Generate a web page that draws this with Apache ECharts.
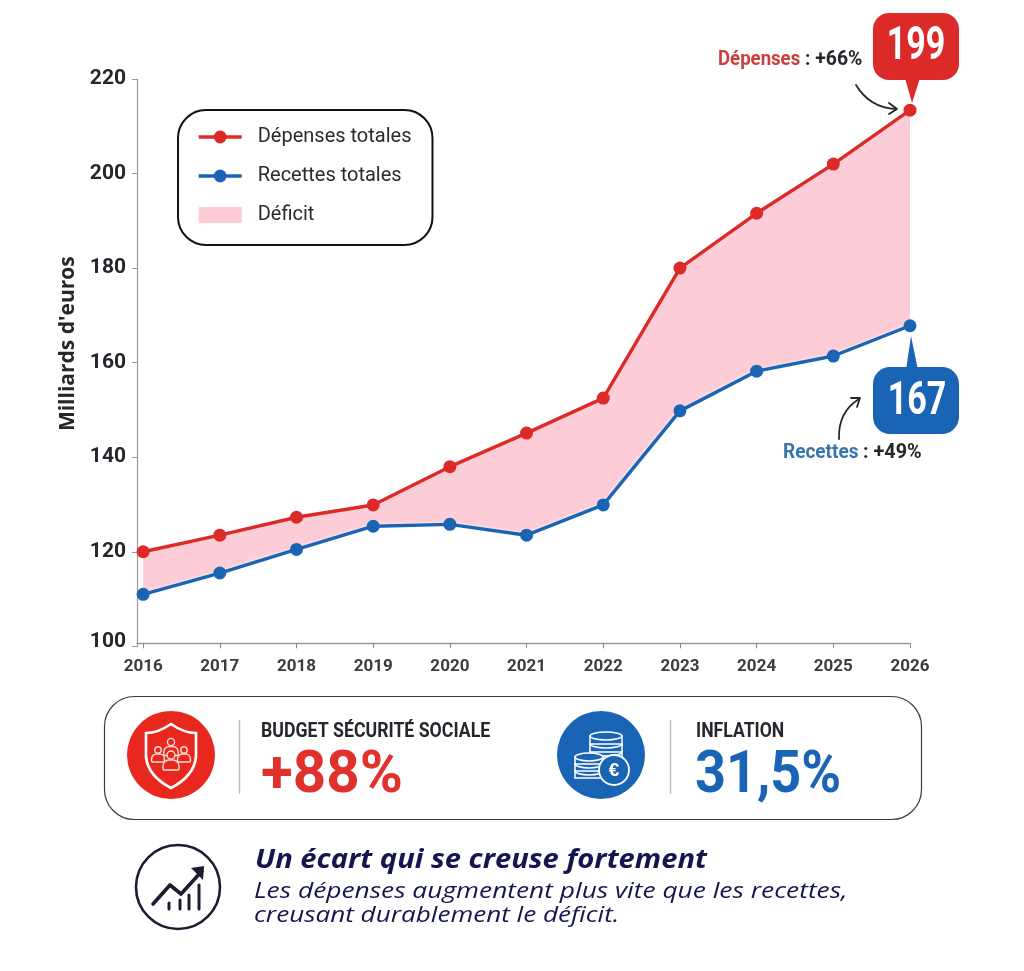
<!DOCTYPE html>
<html><head><meta charset="utf-8">
<script src="https://cdn.jsdelivr.net/npm/echarts@6/dist/echarts.min.js"></script>
<style>html,body{margin:0;padding:0;background:#fff}#c{width:1024px;height:971px}</style></head>
<body><div id="c"></div>
<script>
const years=[2016,2017,2018,2019,2020,2021,2022,2023,2024,2025,2026];
const depenses=[120,123.5,127.3,129.9,138,145.1,152.5,180,191.6,202,213.4];
const recettes=[111,115.5,120.5,125.4,125.8,123.5,129.9,149.8,158.2,161.4,167.8];
const yTicks=[100,120,140,160,180,200,220];
const RED='#dc2a28',BLUE='#1a64b6',PINK='#fccdd6',INK='#26262c',NAVY='#15164f';
const NARROW='"Roboto",sans-serif';
const pairs=a=>a.map((v,i)=>[years[i],v]);
const chart=echarts.init(document.getElementById('c'),null,{renderer:'canvas'});
const t=(x,y,text,font,fill,sx,align)=>({type:'text',x,y,scaleX:sx||1,z:20,style:{text,font,fill,textVerticalAlign:'middle',textAlign:align||'left'}});
const ln=(pts,stroke,w)=>({type:'polyline',z:21,shape:{points:pts},style:{stroke,lineWidth:w,fill:null,lineCap:'round',lineJoin:'round'}});
const curve=(x1,y1,cx,cy,x2,y2,stroke,w)=>({type:'bezierCurve',z:21,shape:{x1,y1,x2,y2,cpx1:cx,cpy1:cy},style:{stroke,lineWidth:w,fill:null,lineCap:'round'}});
const ICON='#fde0d8',SHIELD='#e8281f';
function person(cx,cy,s,z){return [
 {type:'rect',z:z,shape:{x:cx-8*s,y:cy+5*s,width:16*s,height:10*s,r:[6*s,6*s,1,1]},style:{stroke:ICON,fill:SHIELD,lineWidth:1.4}},
 {type:'circle',z:z,shape:{cx,cy,r:4*s},style:{stroke:ICON,fill:SHIELD,lineWidth:1.4}}
];}
function coin(cx,cy,w,h,n){const out=[];for(let i=0;i<n;i++){const y=cy-i*h;
 out.push({type:'rect',z:21,shape:{x:cx-w,y:y,width:2*w,height:h},style:{stroke:'#fff',fill:BLUE,lineWidth:1.5}});
 out.push({type:'ellipse',z:21,shape:{cx,cy:y,rx:w,ry:4},style:{stroke:'#fff',fill:BLUE,lineWidth:1.5}});
 }
 return out;}
const graphics=[
 {type:'polygon',z:15,shape:{points:[[905,78],[920,78],[912,103]]},style:{fill:RED}},
 {type:'rect',z:16,shape:{x:873,y:13,width:86,height:67,r:16},style:{fill:RED}},
 t(916,47,'199','bold 46px '+NARROW,'#fff',.74,'center'),
 t(718,60,'Dépenses','bold 20px '+NARROW,'#c9413f',.93),
 t(805,60,': +66%','bold 20px '+NARROW,INK,.97),
 curve(856,85,870,108,896,109,INK,1.8),
 ln([[889,103],[897,109],[889,114]],INK,1.8),
 {type:'polygon',z:15,shape:{points:[[906,370],[918,370],[911,336]]},style:{fill:BLUE}},
 {type:'rect',z:16,shape:{x:873,y:367,width:86,height:67,r:17},style:{fill:BLUE}},
 t(917,402,'167','bold 46px '+NARROW,'#fff',.74,'center'),
 t(783,453,'Recettes','bold 20px '+NARROW,'#3a74ad',.95),
 t(863,453,': +49%','bold 20px '+NARROW,INK,.99),
 curve(839,439,838,412,859,399,INK,1.8),
 ln([[851,398],[860,398],[857,407]],INK,1.8),
 {type:'rect',z:10,shape:{x:104.5,y:696.5,width:817,height:123,r:30},style:{fill:'#fff',stroke:'#3a3a3a',lineWidth:1.2}},
 {type:'circle',z:20,shape:{cx:171,cy:755,r:44},style:{fill:SHIELD}},
 curve(171,724,184,733,196,733,'#fff',2.6),curve(171,724,158,733,146,733,'#fff',2.6),
 ln([[196,733],[196,757]],'#fff',2.6),ln([[146,733],[146,757]],'#fff',2.6),
 curve(196,757,194,776,171,788,'#fff',2.6),curve(146,757,148,776,171,788,'#fff',2.6),
 ...person(171,742,.9,22),...person(158,750,.8,22),...person(184,750,.8,22),...person(171,755,1,23),
 {type:'line',z:20,shape:{x1:239.5,y1:720,x2:239.5,y2:794},style:{stroke:'#bdbdbd',lineWidth:1.4}},
 t(261,732,'BUDGET SÉCURITÉ SOCIALE','bold 20px '+NARROW,INK,.885),
 t(261,777,'+88%','bold 59px '+NARROW,'#e0312c',.99),
 {type:'circle',z:20,shape:{cx:601,cy:755,r:44},style:{fill:BLUE}},
 ...coin(606,752,16,8,3),...coin(589,771,14,7,3),
 {type:'circle',z:22,shape:{cx:614,cy:770,r:15},style:{fill:BLUE,stroke:'#fff',lineWidth:1.8}},
 Object.assign(t(614,771,'€','bold 19px "Liberation Sans"','#fff',1,'center'),{z:23}),
 {type:'line',z:20,shape:{x1:670.5,y1:720,x2:670.5,y2:794},style:{stroke:'#bdbdbd',lineWidth:1.4}},
 t(696,732,'INFLATION','bold 20px '+NARROW,INK,.88),
 t(695,777,'31,5%','bold 59px '+NARROW,BLUE,.915),
 {type:'circle',z:20,shape:{cx:178,cy:887,r:42},style:{fill:'#fff',stroke:'#1c1c30',lineWidth:2.6}},
 ln([[153,904],[170,885],[181,894],[202,871]],'#1c1c30',3.6),
 {type:'polygon',z:21,shape:{points:[[191,868],[204,866],[203,880]]},style:{fill:'#1c1c30'}},
 ...[[169,903,909],[180,900,909],[189,895,909],[199,885,909]].map(b=>({type:'line',z:20,shape:{x1:b[0],y1:b[1],x2:b[0],y2:b[2]},style:{stroke:'#1c1c30',lineWidth:3,lineCap:'round'}})),
 t(255,860,'Un écart qui se creuse fortement','italic bold 27px "Open Sans"',NAVY,1.08),
 t(254,892,'Les dépenses augmentent plus vite que les recettes,','italic 22.5px "Open Sans"',NAVY,1.17),
 t(254,916,'creusant durablement le déficit.','italic 22.5px "Open Sans"',NAVY,1.16)
];
chart.setOption({
 animation:false,
 backgroundColor:'#fff',
 grid:{left:137,top:79,width:773,height:567.3},
 legend:{
  left:178,top:110,orient:'vertical',itemGap:19,itemWidth:43,itemHeight:16,
  padding:[17,21,20,19],backgroundColor:'#fff',borderColor:'#111',borderWidth:2,borderRadius:28,
  lineStyle:{width:3.4},
  textStyle:{fontFamily:NARROW,fontSize:20,color:'#2b2b2f',padding:[0,0,0,11]},
  data:[{name:'Dépenses totales'},{name:'Recettes totales'},{name:'Déficit',icon:'rect',itemStyle:{color:PINK}}]
 },
 xAxis:{type:'value',min:2015.92,max:2026,offset:-3,splitLine:{show:false},
  axisLine:{lineStyle:{color:'#999',width:1.4}},
  axisTick:{customValues:years,length:5,lineStyle:{color:'#888'}},
  axisLabel:{customValues:years,formatter:v=>String(v),fontFamily:NARROW,fontSize:17,fontWeight:'bold',color:'#3c3c40',margin:15}},
 yAxis:{type:'value',min:100,max:220,interval:20,
  name:"Milliards d'euros",nameLocation:'middle',nameGap:52,nameRotate:90,
  nameTextStyle:{fontFamily:'"Open Sans",sans-serif',fontSize:21,fontWeight:'bold',color:INK,padding:[0,0,0,38]},
  splitLine:{show:false},
  axisLine:{show:true,lineStyle:{color:'#999',width:1.2}},
  axisTick:{show:true,length:5,lineStyle:{color:'#999'}},
  axisLabel:{fontFamily:NARROW,fontSize:21,fontWeight:'bold',color:INK,margin:11,
   formatter:v=>v===yTicks[0]?'{low|'+v+'}':String(v),
   rich:{low:{fontFamily:NARROW,fontSize:21,fontWeight:'bold',color:INK,padding:[0,0,10,0]}}}},
 series:[
  {type:'custom',name:'Déficit',z:1,silent:true,itemStyle:{color:PINK},
   data:years.map((y,i)=>[y,depenses[i],recettes[i]]),
   renderItem:(p,api)=>{
    if(p.dataIndex!==0) return null;
    const top=years.map((y,i)=>api.coord([y,depenses[i]]));
    const bot=years.map((y,i)=>api.coord([y,recettes[i]])).reverse();
    return {type:'polygon',shape:{points:top.concat(bot)},style:{fill:PINK}};
   }},
  {type:'line',name:'Dépenses totales',z:3,data:pairs(depenses),symbol:'circle',symbolSize:13,clip:false,
   lineStyle:{color:RED,width:3.4},itemStyle:{color:RED}},
  {type:'line',name:'Recettes totales',z:3,data:pairs(recettes),symbol:'circle',symbolSize:13,clip:false,
   lineStyle:{color:BLUE,width:3.4,shadowColor:'#fff',shadowBlur:3},itemStyle:{color:BLUE}}
 ],
 graphic:{elements:graphics}
});
</script></body></html>
